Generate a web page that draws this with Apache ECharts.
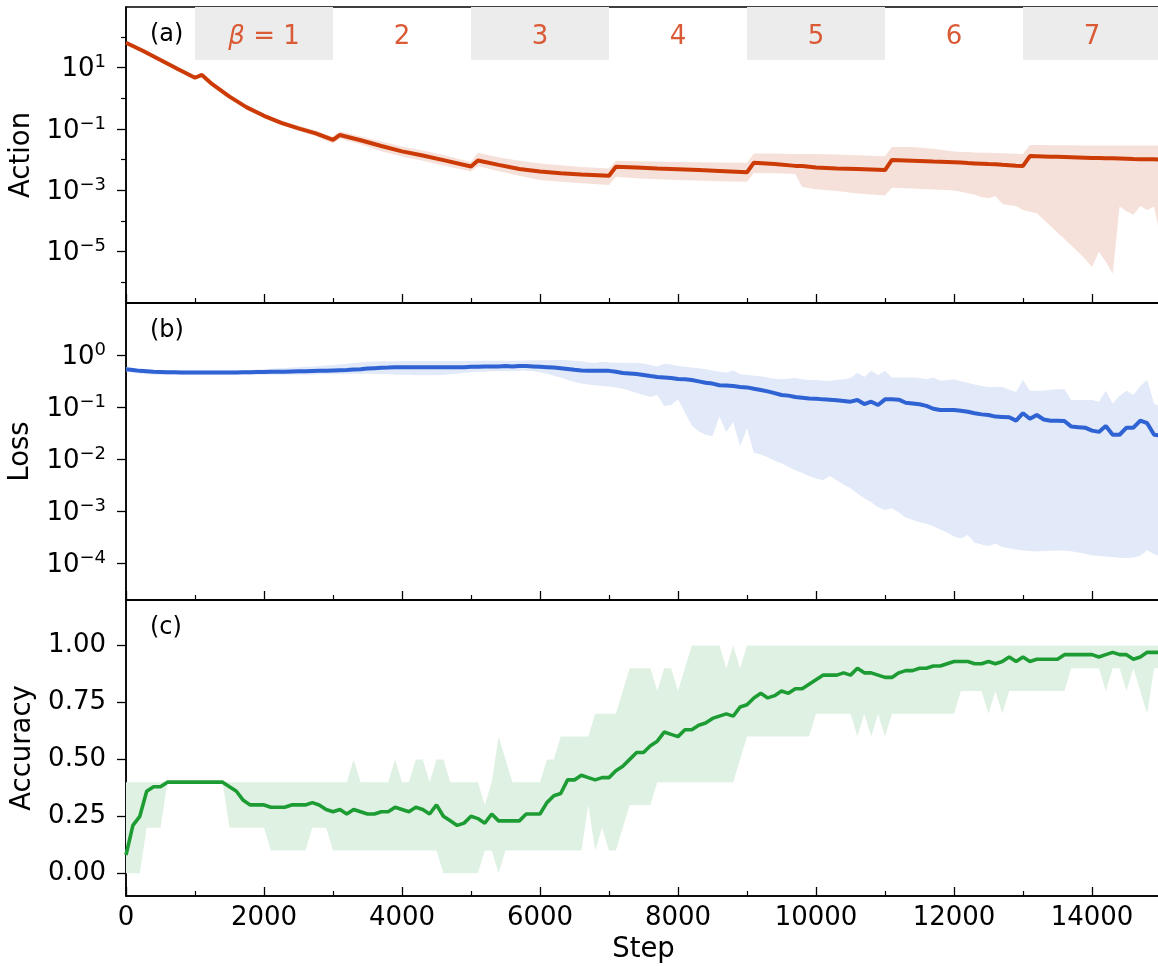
<!DOCTYPE html>
<html><head><meta charset="utf-8">
<script src="https://cdn.jsdelivr.net/npm/echarts@6/dist/echarts.min.js"></script>
<style>html,body{margin:0;padding:0;background:#fff}#c{width:1158px;height:966px}</style>
</head><body><div id="c"></div>
<script>
// ---------------- data ----------------
const actionSteps = [0,250,500,750,1000,1100,1250,1500,1750,2000,2250,2500,2750,3000,3100,3400,3700,4000,4300,4600,
  5000,5100,5400,5700,6000,6300,6600,7000,7100,7400,7700,8000,8300,8600,9000,9100,9400,9700,9800,10000,
  10300,10600,11000,11100,11400,11700,12000,12100,12200,12300,12400,12500,12600,12700,12800,12900,13000,13100,13200,13300,
  13400,13500,13600,13700,13800,13900,14000,14100,14200,14300,14400,14500,14600,14700,14800,14900,15000];
const actionMean = [65,35,17.8,9.1,4.7,5.8,2.9,1.14,0.51,0.27,0.16,0.105,0.072,0.044,0.064,0.043,0.028,0.0187,0.0137,0.0097,
  0.0060,0.0094,0.0068,0.0050,0.0041,0.0036,0.0033,0.0030,0.0059,0.0056,0.0052,0.0049,0.0046,0.0043,0.0039,0.0080,0.0072,0.0063,0.0062,0.0056,
  0.0052,0.0050,0.0046,0.0098,0.0093,0.0087,0.0083,0.0081,0.0078,0.0076,0.0074,0.0072,0.0071,0.0068,0.0066,0.0064,0.0063,0.0132,0.0130,0.0128,
  0.0126,0.0124,0.0122,0.0120,0.0118,0.0116,0.0114,0.0113,0.0112,0.0112,0.0110,0.0108,0.0105,0.0104,0.0103,0.0103,0.0102];
const actionUpper = [70,37,19,9.8,5.1,6.3,3.2,1.28,0.59,0.32,0.19,0.128,0.090,0.056,0.085,0.057,0.039,0.027,0.020,0.0142,
  0.0085,0.017,0.012,0.0092,0.0076,0.0066,0.0058,0.0052,0.0092,0.0089,0.0087,0.0085,0.0083,0.0081,0.0080,0.016,0.0160,0.0155,0.0155,0.0153,
  0.0148,0.0141,0.0131,0.026,0.026,0.023,0.0186,0.018,0.0177,0.0173,0.0170,0.0168,0.0167,0.0163,0.0160,0.0157,0.0155,0.030,0.030,0.030,
  0.0295,0.0295,0.0295,0.0295,0.029,0.029,0.029,0.029,0.029,0.029,0.029,0.029,0.029,0.029,0.029,0.029,0.029];
const actionLower = [60,33,16.8,8.5,4.3,5.3,2.65,1.02,0.45,0.23,0.135,0.086,0.058,0.034,0.048,0.032,0.019,0.0128,0.0092,0.0065,
  0.0041,0.0062,0.0042,0.0030,0.0022,0.0019,0.0017,0.0015,0.0028,0.0025,0.0023,0.0022,0.0021,0.0020,0.0019,0.0037,0.0036,0.0034,0.0013,0.0011,
  0.00095,0.00079,0.00068,0.00123,0.00115,0.00107,0.0010,0.00091,0.00081,0.00072,0.0006,0.00055,0.00066,0.00036,0.00033,0.00031,0.00023,0.0002,0.00018,0.00011,
  6.9e-5,4.2e-5,2.6e-5,1.6e-5,9.8e-6,5.8e-6,3.2e-6,1.0e-5,4.7e-6,1.9e-6,3.0e-4,2.1e-4,1.6e-4,3.1e-4,2.3e-4,3.0e-4,2.4e-5];

const steps = [0,100,200,300,400,500,600,700,800,900,1000,1100,1200,1300,1400,1500,1600,1700,1800,1900,
  2000,2100,2200,2300,2400,2500,2600,2700,2800,2900,3000,3100,3200,3300,3400,3500,3600,3700,3800,3900,
  4000,4100,4200,4300,4400,4500,4600,4700,4800,4900,5000,5100,5200,5300,5400,5500,5600,5700,5800,5900,
  6000,6100,6200,6300,6400,6500,6600,6700,6800,6900,7000,7100,7200,7300,7400,7500,7600,7700,7800,7900,
  8000,8100,8200,8300,8400,8500,8600,8700,8800,8900,9000,9100,9200,9300,9400,9500,9600,9700,9800,9900,
  10000,10100,10200,10300,10400,10500,10600,10700,10800,10900,11000,11100,11200,11300,11400,11500,11600,11700,11800,11900,
  12000,12100,12200,12300,12400,12500,12600,12700,12800,12900,13000,13100,13200,13300,13400,13500,13600,13700,13800,13900,
  14000,14100,14200,14300,14400,14500,14600,14700,14800,14900,15000];

const lossMean = [0.55,0.53,0.51,0.50,0.49,0.485,0.48,0.48,0.475,0.475,
  0.475,0.475,0.475,0.475,0.475,0.475,0.475,0.48,0.48,0.485,
  0.485,0.49,0.49,0.49,0.495,0.50,0.50,0.505,0.51,0.515,
  0.52,0.525,0.53,0.54,0.55,0.565,0.575,0.585,0.59,0.60,
  0.60,0.60,0.60,0.60,0.60,0.60,0.60,0.60,0.60,0.60,
  0.61,0.61,0.62,0.62,0.62,0.63,0.62,0.63,0.63,0.62,
  0.61,0.60,0.59,0.575,0.555,0.535,0.52,0.51,0.51,0.51,
  0.51,0.49,0.465,0.455,0.445,0.425,0.405,0.39,0.38,0.37,
  0.355,0.35,0.34,0.32,0.30,0.29,0.27,0.265,0.26,0.25,
  0.245,0.23,0.218,0.205,0.19,0.175,0.17,0.16,0.155,0.15,
  0.148,0.144,0.142,0.138,0.134,0.13,0.14,0.117,0.13,0.112,
  0.144,0.144,0.142,0.124,0.12,0.116,0.108,0.095,0.09,0.09,
  0.09,0.087,0.083,0.078,0.074,0.072,0.067,0.066,0.065,0.056,
  0.078,0.061,0.072,0.059,0.056,0.056,0.055,0.043,0.042,0.041,
  0.036,0.034,0.044,0.030,0.030,0.041,0.041,0.056,0.050,0.030,
  0.029];
const lossUpper = [0.60,0.57,0.55,0.54,0.53,0.53,0.52,0.52,0.52,0.52,
  0.52,0.52,0.52,0.52,0.52,0.52,0.52,0.53,0.53,0.54,
  0.55,0.56,0.57,0.58,0.59,0.60,0.61,0.62,0.63,0.65,
  0.66,0.68,0.70,0.72,0.74,0.76,0.77,0.78,0.78,0.78,
  0.78,0.79,0.79,0.79,0.79,0.79,0.79,0.79,0.79,0.79,
  0.79,0.80,0.80,0.80,0.80,0.80,0.80,0.80,0.81,0.82,
  0.82,0.82,0.83,0.83,0.82,0.80,0.78,0.74,0.72,0.76,
  0.74,0.73,0.73,0.72,0.72,0.71,0.66,0.62,0.70,0.68,
  0.63,0.61,0.59,0.57,0.55,0.52,0.49,0.47,0.52,0.44,
  0.43,0.41,0.40,0.38,0.36,0.35,0.36,0.37,0.35,0.34,
  0.34,0.33,0.325,0.34,0.35,0.37,0.47,0.39,0.51,0.42,
  0.51,0.38,0.38,0.38,0.38,0.37,0.35,0.38,0.33,0.34,
  0.35,0.32,0.30,0.28,0.26,0.25,0.25,0.25,0.22,0.20,
  0.34,0.21,0.21,0.21,0.22,0.225,0.225,0.14,0.14,0.14,
  0.14,0.13,0.21,0.12,0.17,0.21,0.175,0.26,0.34,0.12,
  0.10];
const lossLower = [0.50,0.47,0.45,0.44,0.43,0.43,0.43,0.43,0.43,0.43,
  0.43,0.43,0.43,0.43,0.43,0.43,0.43,0.43,0.43,0.43,
  0.43,0.43,0.43,0.43,0.43,0.43,0.43,0.43,0.44,0.44,
  0.44,0.44,0.44,0.45,0.45,0.45,0.45,0.44,0.44,0.43,
  0.43,0.43,0.42,0.42,0.42,0.42,0.43,0.44,0.45,0.47,
  0.48,0.49,0.49,0.50,0.50,0.50,0.50,0.51,0.51,0.50,
  0.48,0.45,0.41,0.38,0.34,0.31,0.29,0.28,0.27,0.26,
  0.255,0.245,0.23,0.21,0.19,0.175,0.16,0.175,0.107,0.112,
  0.144,0.08,0.045,0.035,0.030,0.028,0.067,0.034,0.053,0.018,
  0.040,0.0135,0.0125,0.011,0.0095,0.0085,0.0072,0.0062,0.0055,0.0048,
  0.0043,0.0040,0.0048,0.0040,0.0033,0.0028,0.0022,0.0018,0.0015,0.0012,
  0.00106,0.00115,0.00095,0.00076,0.00068,0.00062,0.00058,0.00052,0.00045,0.00039,
  0.00033,0.00030,0.00035,0.00025,0.00023,0.000215,0.00024,0.000205,0.000195,0.000185,
  0.000177,0.000172,0.000169,0.000172,0.000175,0.000177,0.000175,0.00017,0.000162,0.000152,
  0.000141,0.000138,0.000135,0.000132,0.000128,0.000126,0.00013,0.00014,0.000178,0.00015,
  0.000135];

const accMean = [0.08,0.21,0.25,0.36,0.38,0.38,0.40,0.40,0.40,0.40,
  0.40,0.40,0.40,0.40,0.40,0.38,0.36,0.32,0.30,0.30,
  0.30,0.29,0.29,0.29,0.30,0.30,0.30,0.31,0.30,0.28,
  0.27,0.28,0.26,0.28,0.27,0.26,0.26,0.27,0.27,0.29,
  0.28,0.27,0.29,0.28,0.26,0.30,0.25,0.23,0.21,0.22,
  0.25,0.24,0.22,0.26,0.23,0.23,0.23,0.23,0.26,0.26,
  0.26,0.31,0.34,0.35,0.41,0.41,0.43,0.42,0.41,0.42,
  0.42,0.45,0.47,0.50,0.53,0.53,0.56,0.58,0.62,0.61,
  0.60,0.63,0.63,0.65,0.66,0.68,0.69,0.70,0.69,0.73,
  0.74,0.77,0.79,0.77,0.78,0.80,0.79,0.81,0.81,0.83,
  0.85,0.87,0.87,0.87,0.88,0.87,0.90,0.88,0.88,0.87,
  0.86,0.86,0.88,0.89,0.89,0.90,0.90,0.91,0.91,0.92,
  0.93,0.93,0.93,0.92,0.92,0.93,0.92,0.93,0.95,0.93,
  0.95,0.93,0.94,0.94,0.94,0.94,0.96,0.96,0.96,0.96,
  0.96,0.95,0.96,0.97,0.96,0.96,0.94,0.95,0.97,0.97,
  0.97];
const accUpper = [0.4,0.4,0.4,0.4,0.4,0.4,0.4,0.4,0.4,0.4,
  0.4,0.4,0.4,0.4,0.4,0.4,0.4,0.4,0.4,0.4,
  0.4,0.4,0.4,0.4,0.4,0.4,0.4,0.4,0.4,0.4,
  0.4,0.4,0.4,0.5,0.4,0.4,0.4,0.4,0.4,0.5,
  0.4,0.4,0.5,0.5,0.4,0.5,0.5,0.4,0.4,0.4,
  0.4,0.4,0.3,0.4,0.6,0.5,0.4,0.4,0.4,0.4,
  0.4,0.5,0.5,0.6,0.6,0.6,0.6,0.6,0.7,0.7,
  0.7,0.7,0.8,0.9,0.9,0.9,0.9,0.8,0.9,0.9,
  0.8,0.9,1,1,1,1,1,0.9,1,0.9,
  1,1,1,1,1,1,1,1,1,1,
  1,1,1,1,1,1,1,1,1,1,
  1,1,1,1,1,1,1,1,1,1,
  1,1,1,1,1,1,1,1,1,1,
  1,1,1,1,1,1,1,1,1,1,
  1,1,1,1,1,1,1,1,1,1,
  1];
const accLower = [0,0,0,0.2,0.2,0.2,0.4,0.4,0.4,0.4,
  0.4,0.4,0.4,0.4,0.4,0.2,0.2,0.2,0.2,0.2,
  0.2,0.1,0.1,0.1,0.1,0.1,0.1,0.2,0.2,0.2,
  0.1,0.1,0.1,0.1,0.1,0.1,0.1,0.1,0.1,0.1,
  0.1,0.1,0.1,0.1,0.1,0.1,0,0,0,0,
  0,0,0.1,0.1,0,0.1,0.1,0.1,0.1,0.1,
  0.1,0.1,0.1,0.1,0.1,0.1,0.1,0.3,0.1,0.2,
  0.1,0.1,0.2,0.3,0.3,0.3,0.3,0.4,0.4,0.4,
  0.4,0.4,0.4,0.4,0.4,0.4,0.4,0.4,0.4,0.5,
  0.6,0.6,0.6,0.6,0.6,0.6,0.6,0.6,0.6,0.6,
  0.7,0.7,0.7,0.7,0.7,0.7,0.6,0.7,0.6,0.7,
  0.6,0.7,0.7,0.7,0.7,0.7,0.7,0.7,0.7,0.7,
  0.7,0.8,0.8,0.8,0.8,0.7,0.8,0.7,0.8,0.8,
  0.8,0.8,0.8,0.8,0.8,0.8,0.8,0.9,0.9,0.9,
  0.9,0.9,0.8,0.9,0.9,0.8,0.9,0.8,0.7,0.9,
  0.9];

const betaBoxes = [[1000,3000],[5000,7000],[9000,11000],[13000,15000]];
const betaLabelSteps = [2000,4000,6000,8000,10000,12000,14000];
const betaLabels = ['β = 1','2','3','4','5','6','7'];
const xTicks = [0,2000,4000,6000,8000,10000,12000,14000];
const actionTicks = [10,0.1,0.001,0.00001];
const actionMinorTicks = [100,1,0.01,0.0001,0.000001];
const lossTicks = [1,0.1,0.01,0.001,0.0001];
const accTicks = [0,0.25,0.5,0.75,1.0];
const panelLetters = ['(a)','(b)','(c)'];

// ---------------- layout / style ----------------
const FONT = 'DejaVu Sans';
const C_ACT = '#cc3a06', F_ACT = '#f6e1da', C_BETA = '#d95a35';
const C_LOSS = '#2f62d3', F_LOSS = '#e2e9f8';
const C_ACC = '#1e9c34', F_ACC = '#dff1e3';
const ACT_MIN = Math.pow(10,-6.671), ACT_MAX = Math.pow(10,2.979);
const LOSS_MIN = Math.pow(10,-4.707), LOSS_MAX = Math.pow(10,1.015);
const BOX_BOTTOM = Math.pow(10,1.251);
const BETA_Y = Math.pow(10,2.0);
const GL = 126, GW = 1104; // x: 0..16000, so 15000 lands on the image edge
const tops = [7,303,600], heights = [296,297,296];
const TICK_FS = 26, NAME_FS = 27.5;

function pairs(xs, ys){ return xs.map((x,i)=>[x, ys[i]]); }
function band(ix, xs, lo, hi, color){
  return { type:'custom', xAxisIndex:ix, yAxisIndex:ix===0?0:ix+1, silent:true, clip:true, z:1,
    data:[[xs[0], hi[0]]],
    renderItem:function(params, api){
      const pts=[];
      for(let i=0;i<xs.length;i++) pts.push(api.coord([xs[i],hi[i]]));
      for(let i=xs.length-1;i>=0;i--) pts.push(api.coord([xs[i],lo[i]]));
      return {type:'polygon', shape:{points:pts}, style:{fill:color}};
    }};
}
const supFmt = v => { const e=Math.round(Math.log10(v)); return '{b|10}{sup|'+(e<0?'\u2212':'')+Math.abs(e)+'}'; };
const supRich = { b:{fontSize:TICK_FS, fontFamily:FONT, color:'#000', padding:[4,0,0,0]},
                  sup:{fontSize:18, fontFamily:FONT, color:'#000', padding:[0,0,10,0]} };
const axisLineStyle = {color:'#000', width:1.5};

const xAxes = [0,1,2].map(i => ({
  type:'value', gridIndex:i, min:0, max:16000, interval:2000,
  axisLine:{show:true, onZero:false, lineStyle:axisLineStyle},
  axisTick:{show:true, inside:true, length:9, lineStyle:{color:'#000', width:1.3}},
  minorTick:{show:true, splitNumber:2, length:5, lineStyle:{color:'#000', width:1.2}},
  splitLine:{show:false},
  axisLabel:{show:i===2, margin:9, fontSize:TICK_FS, color:'#000', fontFamily:FONT,
             customValues:xTicks, formatter:v=>String(v)}
}));

const yAxes = [
  { type:'log', gridIndex:0, position:'left', min:ACT_MIN, max:ACT_MAX,
    name:'Action', nameLocation:'middle', nameGap:89,
    nameTextStyle:{fontSize:NAME_FS, color:'#000', fontFamily:FONT},
    axisLine:{show:true, lineStyle:axisLineStyle},
    axisTick:{show:true, length:9, customValues:actionTicks, lineStyle:{color:'#000', width:1.3}},
    axisLabel:{customValues:actionTicks, formatter:supFmt, rich:supRich, margin:20, color:'#000'},
    splitLine:{show:false} },
  { type:'log', gridIndex:0, position:'left', min:ACT_MIN, max:ACT_MAX,
    axisLine:{show:false}, axisLabel:{show:false}, splitLine:{show:false},
    axisTick:{show:true, length:5, customValues:actionMinorTicks, lineStyle:{color:'#000', width:1.2}} },
  { type:'log', gridIndex:1, position:'left', min:LOSS_MIN, max:LOSS_MAX,
    name:'Loss', nameLocation:'middle', nameGap:91,
    nameTextStyle:{fontSize:NAME_FS, color:'#000', fontFamily:FONT},
    axisLine:{show:true, lineStyle:axisLineStyle},
    axisTick:{show:true, length:9, customValues:lossTicks, lineStyle:{color:'#000', width:1.3}},
    axisLabel:{customValues:lossTicks, formatter:supFmt, rich:supRich, margin:20, color:'#000'},
    splitLine:{show:false} },
  { type:'value', gridIndex:2, position:'left', min:-0.1, max:1.2,
    name:'Accuracy', nameLocation:'middle', nameGap:87,
    nameTextStyle:{fontSize:NAME_FS, color:'#000', fontFamily:FONT},
    axisLine:{show:true, onZero:false, lineStyle:axisLineStyle},
    axisTick:{show:true, length:9, customValues:accTicks, lineStyle:{color:'#000', width:1.3}},
    axisLabel:{customValues:accTicks, formatter:v=>v.toFixed(2), margin:20, fontSize:TICK_FS, color:'#000', fontFamily:FONT},
    splitLine:{show:false} }
];

const series = [
  band(0, actionSteps, actionLower, actionUpper, F_ACT),
  { type:'line', xAxisIndex:0, yAxisIndex:0, data:pairs(actionSteps, actionMean), showSymbol:false, z:3,
    lineStyle:{color:C_ACT, width:4}, itemStyle:{color:C_ACT},
    markArea:{silent:true, itemStyle:{color:'#ececec'},
      data: betaBoxes.map(b=>[{xAxis:b[0], yAxis:BOX_BOTTOM},{xAxis:b[1], yAxis:ACT_MAX}])} },
  { type:'scatter', xAxisIndex:0, yAxisIndex:0, symbolSize:1, itemStyle:{color:'rgba(0,0,0,0)', opacity:1}, z:4, silent:true,
    data: betaLabelSteps.map(s=>[s, BETA_Y]),
    label:{show:true, position:'inside', color:C_BETA, fontSize:TICK_FS, fontFamily:FONT, textBorderWidth:0, opacity:1,
      formatter:p=>{ const t=betaLabels[p.dataIndex]; return t.charAt(0)==='β' ? '{it|β}{n|'+t.slice(1)+'}' : t; },
      rich:{it:{fontStyle:'italic', fontSize:TICK_FS, color:C_BETA, fontFamily:FONT, textBorderWidth:0},
            n:{fontSize:TICK_FS, color:C_BETA, fontFamily:FONT, textBorderWidth:0}} } },
  band(1, steps, lossLower, lossUpper, F_LOSS),
  { type:'line', xAxisIndex:1, yAxisIndex:2, data:pairs(steps, lossMean), showSymbol:false, z:3,
    lineStyle:{color:C_LOSS, width:4}, itemStyle:{color:C_LOSS} },
  band(2, steps, accLower, accUpper, F_ACC),
  { type:'line', xAxisIndex:2, yAxisIndex:3, data:pairs(steps, accMean), showSymbol:false, z:3,
    lineStyle:{color:C_ACC, width:3.6}, itemStyle:{color:C_ACC} }
];

const option = {
  animation:false,
  textStyle:{fontFamily:FONT},
  grid: [0,1,2].map(i=>({left:GL, width:GW, top:tops[i], height:heights[i], show:true, outerBoundsMode:'none', containLabel:false,
    borderColor:'#000', borderWidth:1.5, backgroundColor:'transparent'})),
  xAxis:xAxes, yAxis:yAxes, series:series,
  graphic: panelLetters.map((t,i)=>({type:'text', left:150, top:tops[i]+16,
      style:{text:t, fontSize:24, fontFamily:FONT, fill:'#000'}})).concat([
    {type:'text', x:643.5, y:950, style:{text:'Step', fontSize:NAME_FS, fontFamily:FONT, fill:'#000', textAlign:'center', textVerticalAlign:'middle'}}
  ])
};
const chart = echarts.init(document.getElementById('c'), null, {renderer:'canvas'});
chart.setOption(option);
</script></body></html>
